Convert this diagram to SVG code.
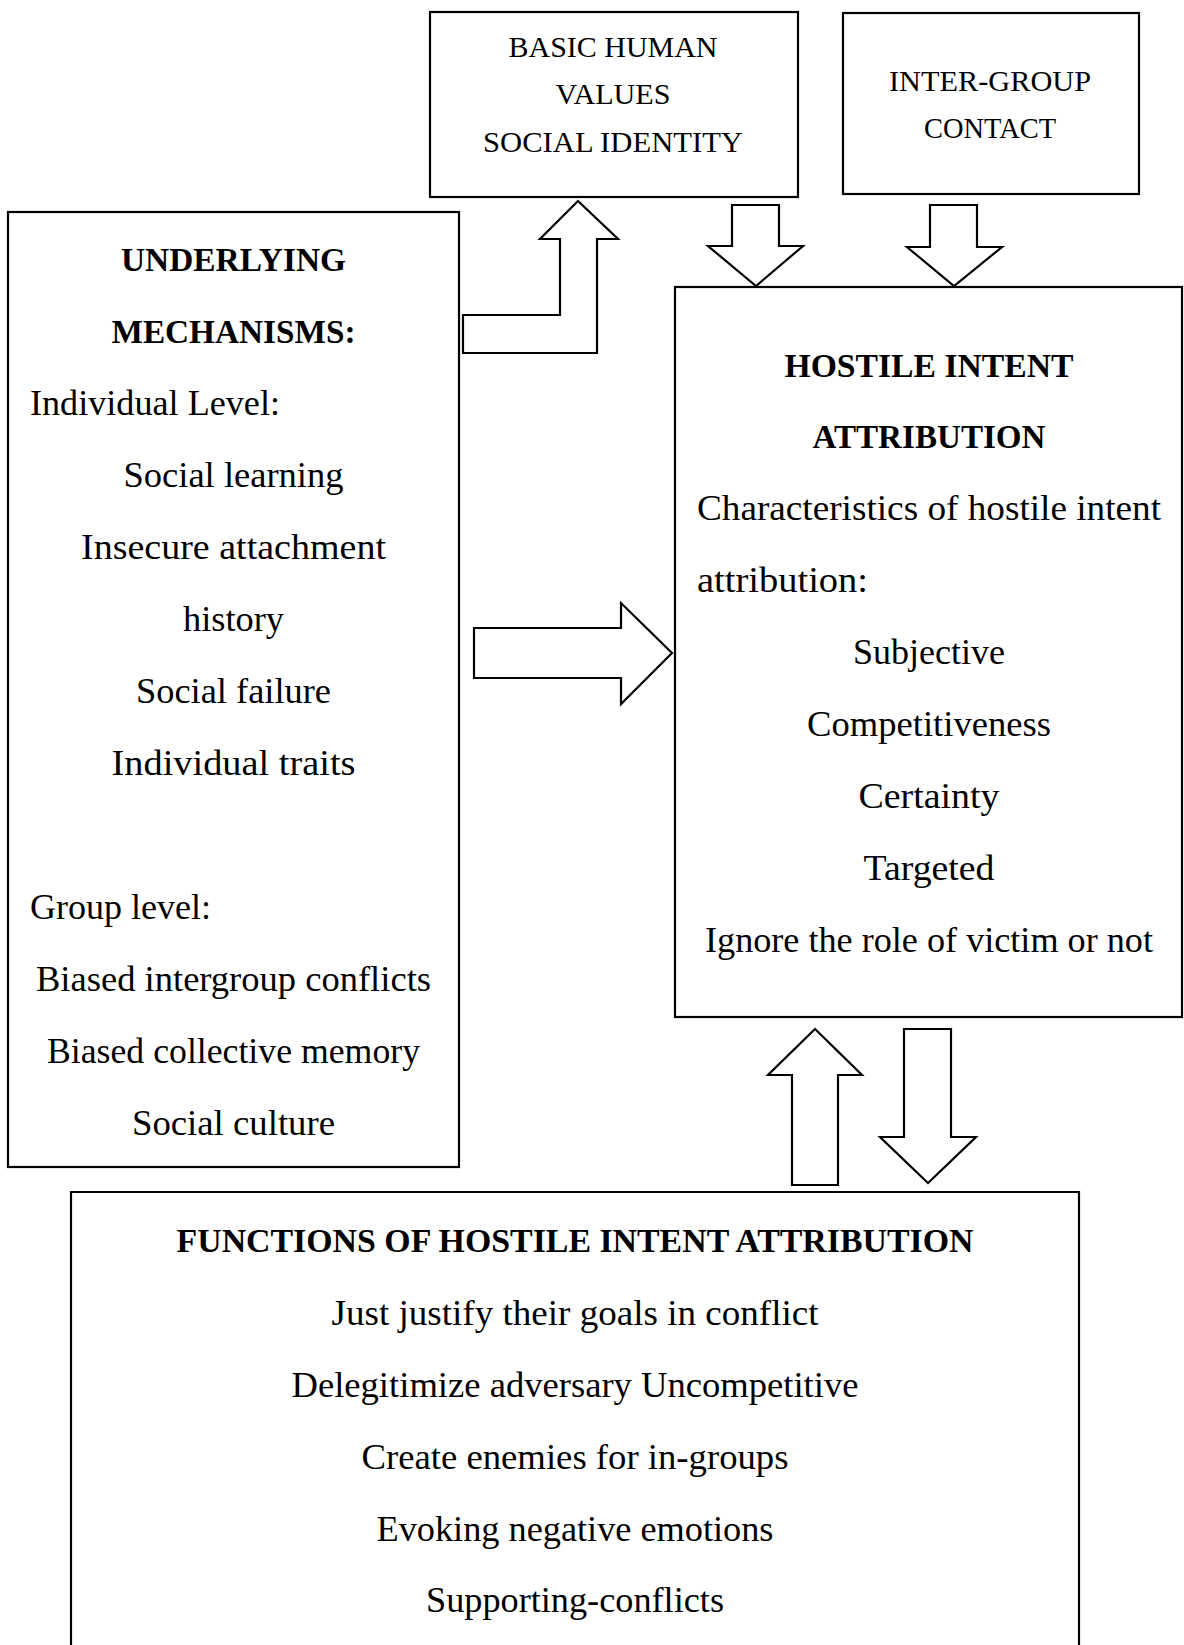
<svg xmlns="http://www.w3.org/2000/svg" width="1184" height="1645" viewBox="0 0 1184 1645">
  <style>
    .box { fill: #ffffff; stroke: #000000; stroke-width: 2.2; }
    .arrow { fill: #ffffff; stroke: #000000; stroke-width: 2.2; stroke-linejoin: miter; }
    text { font-family: "Liberation Serif", "Times New Roman", serif; fill: #000000; }
    .t { font-size: 36.5px; }
    .c { text-anchor: middle; }
    .h { font-size: 33.5px; font-weight: bold; text-anchor: middle; }
    .s { font-size: 30px; text-anchor: middle; }
  </style>
  <rect width="1184" height="1645" fill="#ffffff"/>

  <!-- Connectors: hollow block arrows -->
  <g id="connectors">
    <polygon class="arrow" points="463,315 560,315 560,239 540,239 578,201 618,239 597,239 597,353 463,353"/>
    <polygon class="arrow" points="732,205 779,205 779,246 803,246 756,286 708,246 732,246"/>
    <polygon class="arrow" points="930,205 977,205 977,247 1002,247 954,286 907,247 930,247"/>
    <polygon class="arrow" points="474,628 621,628 621,603 672,653 621,704 621,678 474,678"/>
    <polygon class="arrow" points="815,1029 862,1075 838,1075 838,1185 792,1185 792,1075 768,1075"/>
    <polygon class="arrow" points="904,1029 951,1029 951,1137 976,1137 928,1183 880,1137 904,1137"/>
  </g>

  <g id="values-identity">
    <rect class="box" x="430" y="12" width="368" height="185"/>
    <text class="s" x="613" y="57" textLength="209" lengthAdjust="spacingAndGlyphs">BASIC HUMAN</text>
    <text class="s" x="613" y="104" textLength="115" lengthAdjust="spacingAndGlyphs">VALUES</text>
    <text class="s" x="613" y="152" textLength="260" lengthAdjust="spacingAndGlyphs">SOCIAL IDENTITY</text>
  </g>

  <g id="intergroup-contact">
    <rect class="box" x="843" y="13" width="296" height="181"/>
    <text class="s" x="990" y="91" textLength="202" lengthAdjust="spacingAndGlyphs">INTER-GROUP</text>
    <text class="s" x="990" y="138" textLength="132" lengthAdjust="spacingAndGlyphs">CONTACT</text>
  </g>

  <g id="underlying-mechanisms">
    <rect class="box" x="8" y="212" width="451" height="955"/>
    <text class="h" x="233.5" y="271" textLength="225" lengthAdjust="spacingAndGlyphs">UNDERLYING</text>
    <text class="h" x="233.5" y="343" textLength="244" lengthAdjust="spacingAndGlyphs">MECHANISMS:</text>
    <text class="t" x="30" y="415" textLength="250" lengthAdjust="spacingAndGlyphs">Individual Level:</text>
    <text class="t c" x="233.5" y="487" textLength="220" lengthAdjust="spacingAndGlyphs">Social learning</text>
    <text class="t c" x="233.5" y="559" textLength="305" lengthAdjust="spacingAndGlyphs">Insecure attachment</text>
    <text class="t c" x="233.5" y="631" textLength="101" lengthAdjust="spacingAndGlyphs">history</text>
    <text class="t c" x="233.5" y="703" textLength="195" lengthAdjust="spacingAndGlyphs">Social failure</text>
    <text class="t c" x="233.5" y="775" textLength="244" lengthAdjust="spacingAndGlyphs">Individual traits</text>
    <text class="t" x="30" y="919" textLength="181" lengthAdjust="spacingAndGlyphs">Group level:</text>
    <text class="t c" x="233.5" y="991" textLength="395" lengthAdjust="spacingAndGlyphs">Biased intergroup conflicts</text>
    <text class="t c" x="233.5" y="1063" textLength="373" lengthAdjust="spacingAndGlyphs">Biased collective memory</text>
    <text class="t c" x="233.5" y="1135" textLength="203" lengthAdjust="spacingAndGlyphs">Social culture</text>
  </g>

  <g id="hostile-intent-attribution">
    <rect class="box" x="675" y="287" width="507" height="730"/>
    <text class="h" x="929" y="377" textLength="289" lengthAdjust="spacingAndGlyphs">HOSTILE INTENT</text>
    <text class="h" x="929" y="448" textLength="233" lengthAdjust="spacingAndGlyphs">ATTRIBUTION</text>
    <text class="t" x="697" y="520" textLength="464" lengthAdjust="spacingAndGlyphs">Characteristics of hostile intent</text>
    <text class="t" x="697" y="592" textLength="171" lengthAdjust="spacingAndGlyphs">attribution:</text>
    <text class="t c" x="929" y="664" textLength="152" lengthAdjust="spacingAndGlyphs">Subjective</text>
    <text class="t c" x="929" y="736" textLength="244" lengthAdjust="spacingAndGlyphs">Competitiveness</text>
    <text class="t c" x="929" y="808" textLength="141" lengthAdjust="spacingAndGlyphs">Certainty</text>
    <text class="t c" x="929" y="880" textLength="131" lengthAdjust="spacingAndGlyphs">Targeted</text>
    <text class="t c" x="929" y="952" textLength="448" lengthAdjust="spacingAndGlyphs">Ignore the role of victim or not</text>
  </g>

  <g id="functions">
    <path class="box" d="M71,1660 V1192 H1079 V1660"/>
    <text class="h" x="575" y="1252" textLength="797" lengthAdjust="spacingAndGlyphs">FUNCTIONS OF HOSTILE INTENT ATTRIBUTION</text>
    <text class="t c" x="575" y="1325" textLength="487" lengthAdjust="spacingAndGlyphs">Just justify their goals in conflict</text>
    <text class="t c" x="575" y="1397" textLength="567" lengthAdjust="spacingAndGlyphs">Delegitimize adversary Uncompetitive</text>
    <text class="t c" x="575" y="1469" textLength="427" lengthAdjust="spacingAndGlyphs">Create enemies for in-groups</text>
    <text class="t c" x="575" y="1541" textLength="397" lengthAdjust="spacingAndGlyphs">Evoking negative emotions</text>
    <text class="t c" x="575" y="1612" textLength="298" lengthAdjust="spacingAndGlyphs">Supporting-conflicts</text>
  </g>
</svg>
